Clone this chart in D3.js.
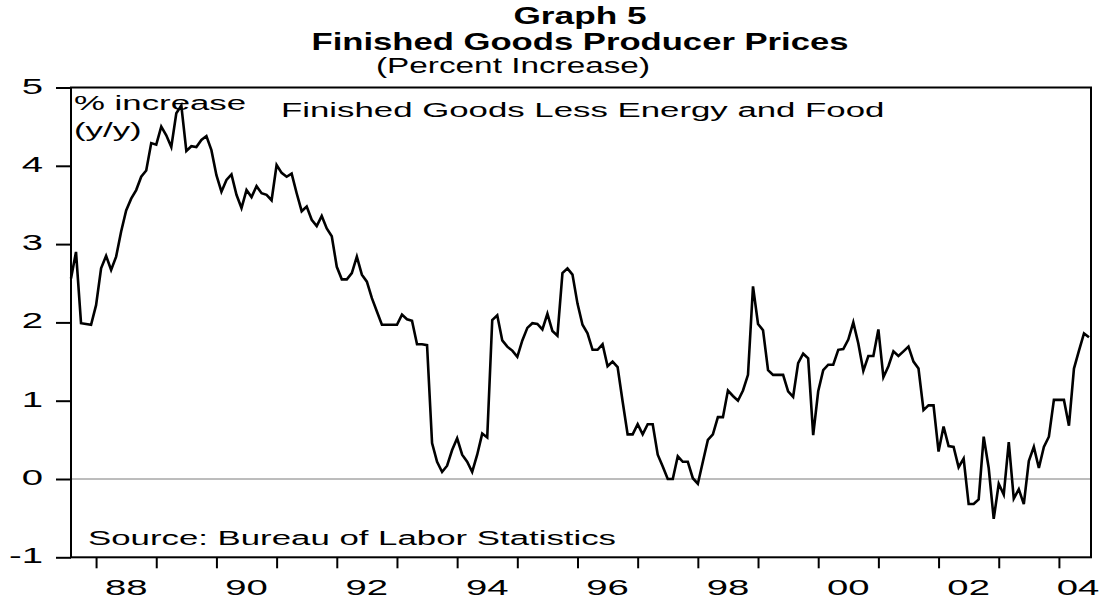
<!DOCTYPE html>
<html>
  <head>
    <meta charset="utf-8">
    <script src="https://d3js.org/d3.v7.min.js"></script>
    <title>Graph 5</title>
    <style>
      body {
        margin: 0px;
        background: #ffffff;
      }
      text {
        font-family: Arial, 'Liberation Sans', sans-serif;
        fill: #000000;
      }
      .title {
        font-weight: bold;
        font-size: 23px;
      }
      .subtitle {
        font-size: 22px;
      }
      .note {
        font-size: 20px;
      }
      .tick-label {
        font-size: 22px;
      }
    </style>
  </head>
  <body>
    <script>
      // y/y % change, finished goods less energy and food, monthly from 1987:08
      const startYear = 1987;
      const startMonth = 8;
      const values = [
        2.56, 2.90, 1.99, 1.98, 1.97, 2.22, 2.69, 2.85, 2.67, 2.84,
        3.16, 3.43, 3.58, 3.69, 3.86, 3.94, 4.29, 4.27, 4.50, 4.39,
        4.24, 4.67, 4.77, 4.19, 4.25, 4.24, 4.33, 4.38, 4.20, 3.88,
        3.67, 3.82, 3.89, 3.63, 3.46, 3.69, 3.60, 3.74, 3.65, 3.63,
        3.56, 4.01, 3.91, 3.86, 3.90, 3.65, 3.42, 3.48, 3.31, 3.23,
        3.36, 3.20, 3.10, 2.71, 2.55, 2.55, 2.63, 2.84, 2.61, 2.52,
        2.31, 2.14, 1.97, 1.97, 1.97, 1.97, 2.10, 2.04, 2.02, 1.72,
        1.72, 1.71, 0.46, 0.22, 0.09, 0.17, 0.37, 0.52, 0.31, 0.22,
        0.09, 0.31, 0.58, 0.53, 2.03, 2.09, 1.77, 1.69, 1.64, 1.56,
        1.77, 1.93, 1.99, 1.98, 1.91, 2.11, 1.89, 1.83, 2.63, 2.69,
        2.61, 2.24, 1.97, 1.86, 1.65, 1.65, 1.72, 1.44, 1.50, 1.43,
        0.99, 0.57, 0.57, 0.70, 0.57, 0.70, 0.70, 0.31, 0.16, 0.00,
        0.00, 0.29, 0.22, 0.22, 0.01, -0.06, 0.22, 0.50, 0.57, 0.79,
        0.79, 1.13, 1.06, 1.00, 1.13, 1.33, 2.46, 1.98, 1.90, 1.39,
        1.33, 1.33, 1.33, 1.12, 1.05, 1.48, 1.60, 1.54, 0.56, 1.12,
        1.39, 1.46, 1.46, 1.65, 1.66, 1.78, 2.00, 1.73, 1.38, 1.57,
        1.57, 1.91, 1.30, 1.44, 1.63, 1.57, 1.63, 1.69, 1.50, 1.41,
        0.88, 0.94, 0.94, 0.35, 0.67, 0.42, 0.41, 0.15, 0.26, -0.32,
        -0.32, -0.26, 0.54, 0.14, -0.51, -0.06, -0.20, 0.47, -0.25, -0.13,
        -0.32, 0.23, 0.41, 0.14, 0.41, 0.54, 1.01, 1.01, 1.01, 0.68,
        1.41, 1.64, 1.86, 1.81
      ];
      const yTicks = [-1, 0, 1, 2, 3, 4, 5];
      const yearTicks = d3.range(1988, 2005);
      const labelYears = [1988, 1990, 1992, 1994, 1996, 1998, 2000, 2002, 2004];

      const width = 1109, height = 601;
      const plotLeft = 71, plotRight = 1089, frameRight = 1091;
      const plotTop = 87.5, plotBottom = 557.3;
      const SX = 1.74; // horizontal stretch of the original's lettering

      const data = values.map((v, i) => ({
        t: startYear + (startMonth - 1 + i) / 12,
        v: v
      }));

      const svg = d3.select('body').append('svg')
        .attr('width', width)
        .attr('height', height);

      const xScale = d3.scaleLinear()
        .domain(d3.extent(data, d => d.t))
        .range([plotLeft, plotRight]);
      const yScale = d3.scaleLinear()
        .domain([-1, 5])
        .range([plotBottom, plotTop]);

      function stretch(sel, sx) {
        sel.each(function() {
          const t = d3.select(this);
          const x = +t.attr('x') || 0;
          const y = +t.attr('y') || 0;
          t.attr('x', 0).attr('y', 0)
            .attr('transform', `translate(${x},${y}) scale(${sx},1)`);
        });
      }

      // titles
      const titles = [
        { text: 'Graph 5', cls: 'title', x: 580, y: 24, w: 133, anchor: 'middle' },
        { text: 'Finished Goods Producer Prices', cls: 'title', x: 580, y: 50, w: 537, anchor: 'middle' },
        { text: '(Percent Increase)', cls: 'subtitle', x: 376, y: 73, w: 274, anchor: 'start' }
      ];
      svg.selectAll('.titles').data(titles).enter().append('text')
        .attr('class', d => d.cls)
        .attr('x', d => d.x)
        .attr('y', d => d.y)
        .attr('text-anchor', d => d.anchor)
        .attr('textLength', d => d.w)
        .attr('lengthAdjust', 'spacingAndGlyphs')
        .text(d => d.text);

      // zero line
      svg.append('line')
        .attr('x1', plotLeft).attr('x2', frameRight)
        .attr('y1', yScale(0)).attr('y2', yScale(0))
        .attr('stroke', '#7a7a7a')
        .attr('stroke-width', 1);

      // notes inside the frame
      const notes = [
        { text: '% increase', x: 74, y: 110 },
        { text: '(y/y)', x: 74, y: 137 },
        { text: 'Finished Goods Less Energy and Food', x: 281, y: 117 },
        { text: 'Source: Bureau of Labor Statistics', x: 88, y: 545 }
      ];
      svg.selectAll('.notes').data(notes).enter().append('text')
        .attr('class', 'note')
        .attr('x', d => d.x)
        .attr('y', d => d.y)
        .text(d => d.text)
        .call(stretch, SX);

      // series
      const line = d3.line()
        .x(d => xScale(d.t))
        .y(d => yScale(d.v));
      svg.append('path')
        .datum(data)
        .attr('d', line)
        .attr('fill', 'none')
        .attr('stroke', '#000000')
        .attr('stroke-width', 2.6)
        .attr('stroke-linejoin', 'miter');

      // frame
      svg.append('rect')
        .attr('x', plotLeft)
        .attr('y', plotTop)
        .attr('width', frameRight - plotLeft)
        .attr('height', plotBottom - plotTop)
        .attr('fill', 'none')
        .attr('stroke', '#000000')
        .attr('stroke-width', 2);

      // y axis
      const yAxis = d3.axisLeft(yScale)
        .tickValues(yTicks)
        .tickFormat(d => String(d))
        .tickSize(15)
        .tickPadding(13);
      const yAxisG = svg.append('g')
        .attr('transform', `translate(${plotLeft},0)`)
        .call(yAxis);
      yAxisG.attr('font-size', null).attr('font-family', null);
      yAxisG.select('.domain').remove();
      yAxisG.selectAll('line').attr('stroke', '#000').attr('stroke-width', 2);
      yAxisG.selectAll('text')
        .attr('class', 'tick-label')
        .attr('dy', '0.25em')
        .call(stretch, SX);

      // x axis (year boundaries)
      const xAxis = d3.axisBottom(xScale)
        .tickValues(yearTicks)
        .tickFormat('')
        .tickSize(11);
      const xAxisG = svg.append('g')
        .attr('transform', `translate(0,${plotBottom})`)
        .call(xAxis);
      xAxisG.select('.domain').remove();
      xAxisG.selectAll('line').attr('stroke', '#000').attr('stroke-width', 2);

      svg.selectAll('.year-label').data(labelYears).enter().append('text')
        .attr('class', 'tick-label')
        .attr('x', d => Math.min(xScale(d + 0.5), 1078))
        .attr('y', 595)
        .attr('text-anchor', 'middle')
        .text(d => String(d).slice(2))
        .call(stretch, SX);
    </script>
  </body>
</html>
